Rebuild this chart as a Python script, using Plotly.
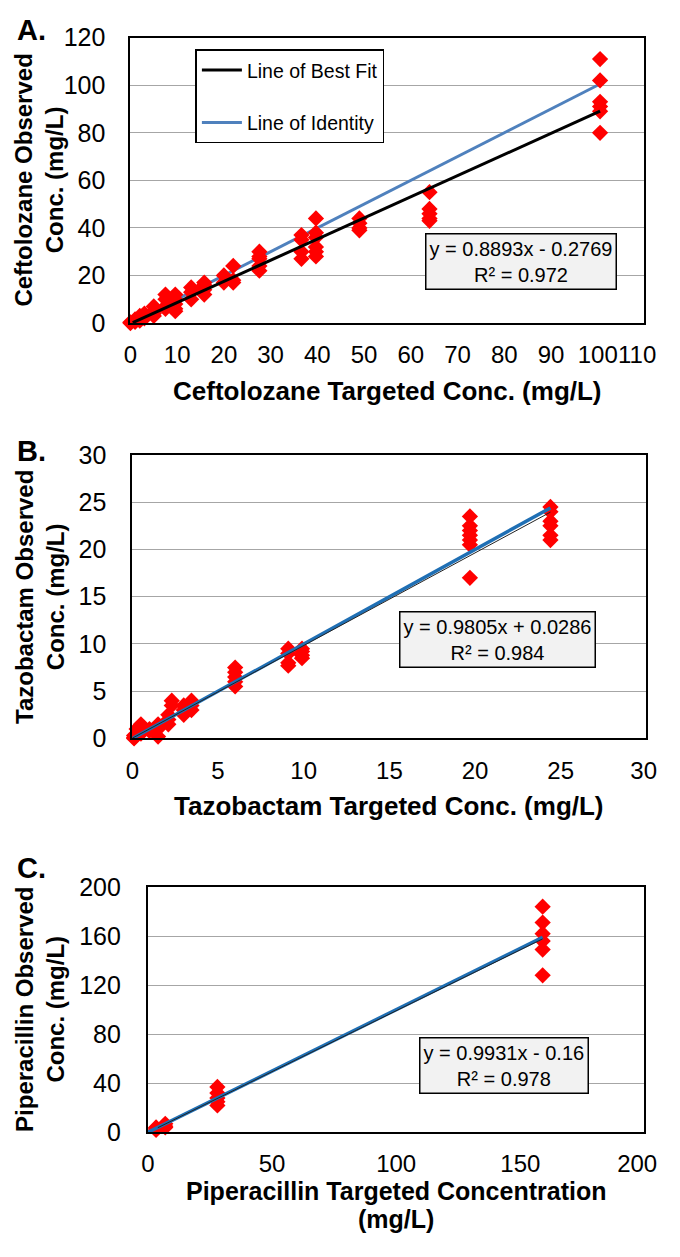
import numpy as np
import plotly.graph_objects as go

FONT = "Arial, 'Liberation Sans', sans-serif"
# The page body keeps its default 8px margin, so the figure is 16px smaller
# than the window and reference pixel positions are shifted by 8.
OFF = 8
W, H = 680 - 2 * OFF, 1257 - 2 * OFF


def px(x):
    return (x - OFF) / W


def py(y):
    return 1 - (y - OFF) / H


# ---------------- Data ----------------
# Panel A: Ceftolozane (mg/L)
ceft_target = [0, 0, 1, 1, 1, 2, 2, 2, 3, 3, 3, 5, 5, 5, 5,
               7.5, 7.5, 7.5, 7.5, 9.6, 9.6, 9.6, 9.6, 9.6,
               13, 13, 13, 15.8, 15.8, 15.8, 15.8, 20, 20, 22, 22, 22,
               27.6, 27.6, 27.6, 27.6, 27.6, 36.6, 36.6, 36.6, 36.6,
               39.7, 39.7, 39.7, 39.7, 39.7, 39.7, 49, 49, 49, 49,
               64, 64, 64, 64, 64, 100.5, 100.5, 100.5, 100.5, 100.5, 100.5]
ceft_observed = [0, 0.3, 1, 0.5, 1.5, 2, 1, 3, 3, 2, 4, 7, 5, 4, 3,
                 12, 10, 7, 6, 12, 10, 8, 6, 5,
                 15, 13, 10, 17, 16, 14, 12, 20, 17, 24, 18, 17,
                 30, 28, 27, 24, 22, 37, 35, 30, 27,
                 44, 38, 36, 32, 30, 28, 44, 42, 40, 39,
                 55, 48, 46, 44, 43, 111, 102, 93, 91, 89, 80]
ceft_fit = {"slope": 0.8893, "intercept": -0.2769, "x": [0.5, 100.5]}
ceft_identity_x = [0, 100.5]
ceft_eq = "y = 0.8893x - 0.2769<br>R² = 0.972"
ceft_xticks = [0, 10, 20, 30, 40, 50, 60, 70, 80, 90, 100, 110]
ceft_yticks = [0, 20, 40, 60, 80, 100, 120]

# Panel B: Tazobactam (mg/L)
tazo_target = [0.1, 0.1, 0.1, 0.25, 0.25, 0.5, 0.5, 0.5, 1, 1, 1.5, 1.5, 1.5,
               2.1, 2.1, 2.1, 2.3, 2.3, 3, 3, 3, 3.45, 3.45, 3.45,
               6, 6, 6, 6, 6, 9.1, 9.1, 9.1, 9.1, 9.9, 9.9, 9.9, 9.9,
               19.7, 19.7, 19.7, 19.7, 19.7, 19.7, 19.7,
               24.4, 24.4, 24.4, 24.4, 24.4, 24.4]
tazo_observed = [0, 0.3, 0.1, 1, 0.5, 1.5, 1.2, 0.5, 1, 0.8, 1.5, 1, 0.2,
                 2.5, 2, 1.5, 4, 3.5, 3.5, 3, 2.5, 4, 3.5, 3,
                 7.5, 7, 6.5, 6, 5.5, 9.5, 9, 8, 7.7, 9.5, 9.2, 8.8, 8.5,
                 23.5, 22.5, 22, 21.5, 21, 20.5, 17,
                 24.5, 24, 23, 22.5, 21.5, 21]
tazo_fit = {"slope": 0.9805, "intercept": 0.0286, "x": [0, 24.4]}
tazo_identity_x = [0, 24.4]
tazo_eq = "y = 0.9805x + 0.0286<br>R² = 0.984"
tazo_xticks = [0, 5, 10, 15, 20, 25, 30]
tazo_yticks = [0, 5, 10, 15, 20, 25, 30]

# Panel C: Piperacillin (mg/L)
pip_target = [3.3, 3.3, 3.3, 7, 7, 7, 28, 28, 28, 28, 28,
              159, 159, 159, 159, 159, 159]
pip_observed = [4, 2, 3, 7, 5, 4, 37, 32, 28, 25, 22,
                184, 171, 162, 156, 149, 128]
pip_fit = {"slope": 0.9931, "intercept": -0.16, "x": [4, 159]}
pip_identity_x = [0, 159]
pip_eq = "y = 0.9931x - 0.16<br>R² = 0.978"
pip_xticks = [0, 50, 100, 150, 200]
pip_yticks = [0, 40, 80, 120, 160, 200]

# ---------------- Layout geometry (reference pixels) ----------------
XT_FONT, YT_FONT = 24, 25
panels = [
    dict(ax="", x0=127, x1=657, top=24, bot=316, xr=[0, 110], yr=[0, 120],
         xticks=ceft_xticks, yticks=ceft_yticks, xstand=9, ystand=18,
         ytitle="Ceftolozane Observed<br>Conc. (mg/L)",
         xtitle=[("Ceftolozane Targeted Conc. (mg/L)", 386)], xt_font=26,
         label="A.", label_y=16, eq=ceft_eq, eq_xy=(530, 253)),
    dict(ax="2", x0=129, x1=659, top=451, bot=741, xr=[0, 30], yr=[0, 30],
         xticks=tazo_xticks, yticks=tazo_yticks, xstand=10, ystand=19,
         ytitle="Tazobactam Observed<br>Conc. (mg/L)",
         xtitle=[("Tazobactam Targeted Conc. (mg/L)", 810)], xt_font=26,
         label="B.", label_y=447, eq=tazo_eq, eq_xy=(505, 640)),
    dict(ax="3", x0=145, x1=657, top=893, bot=1144, xr=[0, 200], yr=[0, 200],
         xticks=pip_xticks, yticks=pip_yticks, xstand=9, ystand=20,
         ytitle="Piperacillin Observed<br>Conc. (mg/L)",
         xtitle=[("Piperacillin Targeted Concentration", 1204), ("(mg/L)", 1233)],
         xt_font=25,
         label="C.", label_y=874, eq=pip_eq, eq_xy=(512, 1076)),
]

RED = "#ff0000"
fig = go.Figure()


def line_xy(fit):
    xs = np.array(fit["x"], dtype=float)
    return xs, fit["slope"] * xs + fit["intercept"]


def add_markers(x, y, ax):
    fig.add_trace(go.Scatter(
        x=x, y=y, mode="markers", xaxis="x" + ax, yaxis="y" + ax,
        marker=dict(symbol="diamond", size=12.5, color=RED, line=dict(width=0)),
        showlegend=False, cliponaxis=False, hoverinfo="x+y"))


# Panel A
fig.add_trace(go.Scatter(x=ceft_identity_x, y=ceft_identity_x, mode="lines",
                         line=dict(color="#4f81bd", width=3), name="Line of Identity",
                         legendgroup="id", legendrank=2, xaxis="x", yaxis="y"))
add_markers(ceft_target, ceft_observed, "")
fx, fy = line_xy(ceft_fit)
fig.add_trace(go.Scatter(x=fx, y=fy, mode="lines", line=dict(color="black", width=3),
                         name="Line of Best Fit", legendgroup="fit", legendrank=1,
                         xaxis="x", yaxis="y"))

# Panel B
add_markers(tazo_target, tazo_observed, "2")
fig.add_trace(go.Scatter(x=tazo_identity_x, y=tazo_identity_x, mode="lines",
                         line=dict(color="#1f6fb4", width=3.5), showlegend=False,
                         xaxis="x2", yaxis="y2"))
fx, fy = line_xy(tazo_fit)
fig.add_trace(go.Scatter(x=fx, y=fy, mode="lines", line=dict(color="#222222", width=1),
                         showlegend=False, xaxis="x2", yaxis="y2"))

# Panel C
add_markers(pip_target, pip_observed, "3")
fig.add_trace(go.Scatter(x=pip_identity_x, y=pip_identity_x, mode="lines",
                         line=dict(color="#1f6fb4", width=3.5), showlegend=False,
                         xaxis="x3", yaxis="y3"))
fx, fy = line_xy(pip_fit)
fig.add_trace(go.Scatter(x=fx, y=fy, mode="lines", line=dict(color="#222222", width=1),
                         showlegend=False, xaxis="x3", yaxis="y3"))


def x_tick_positions(p):
    """Keep the last tick label inside the figure (Plotly hides labels past the div)."""
    upp = (p["xr"][1] - p["xr"][0]) / (p["x1"] - p["x0"])  # data units per pixel
    vals = []
    for v in p["xticks"]:
        half = len(str(v)) * 0.556 * XT_FONT / 2 + 2.5
        max_center_px = (OFF + W) - half
        max_val = p["xr"][0] + (max_center_px - p["x0"]) * upp
        vals.append(min(v, max_val))
    return vals


annotations = []
layout_axes = {}
for p in panels:
    ax = p["ax"]
    layout_axes["xaxis" + ax] = dict(
        domain=[px(p["x0"]), px(p["x1"])], anchor="y" + ax, range=p["xr"],
        tickvals=x_tick_positions(p), ticktext=[str(v) for v in p["xticks"]],
        tickangle=0,
        showgrid=False, zeroline=False, showline=True, linecolor="black",
        linewidth=2, mirror=True, ticks="", ticklabelstandoff=p["xstand"],
        tickfont=dict(family=FONT, size=XT_FONT, color="black"), fixedrange=True)
    layout_axes["yaxis" + ax] = dict(
        domain=[py(p["bot"]), py(p["top"])], anchor="x" + ax, range=p["yr"],
        tickvals=p["yticks"], ticktext=[str(v) for v in p["yticks"]],
        showgrid=True, gridcolor="#a6a6a6", gridwidth=1,
        zeroline=False, showline=True, linecolor="black", linewidth=2, mirror=True,
        ticks="", ticklabelstandoff=p["ystand"],
        tickfont=dict(family=FONT, size=YT_FONT, color="black"), fixedrange=True)
    annotations.append(dict(
        x=px(33), y=py((p["top"] + p["bot"]) / 2), xref="paper", yref="paper",
        xanchor="center", yanchor="middle",
        text="<b>" + p["ytitle"] + "</b>", textangle=-90, showarrow=False,
        font=dict(family=FONT, size=24, color="black")))
    for txt, yy in p["xtitle"]:
        annotations.append(dict(
            x=px((p["x0"] + p["x1"]) / 2), y=py(yy), xref="paper", yref="paper",
            xanchor="center", yanchor="middle", text="<b>" + txt + "</b>",
            showarrow=False, font=dict(family=FONT, size=p["xt_font"], color="black")))
    annotations.append(dict(
        x=px(8), y=py(p["label_y"]), xref="paper", yref="paper", xanchor="left",
        yanchor="middle", text="<b>" + p["label"] + "</b>", showarrow=False,
        font=dict(family=FONT, size=29, color="black")))
    annotations.append(dict(
        x=px(p["eq_xy"][0]), y=py(p["eq_xy"][1]), xref="paper", yref="paper",
        xanchor="center", yanchor="middle", text=p["eq"], showarrow=False, align="center",
        bgcolor="#f2f2f2", bordercolor="black", borderwidth=1.5, borderpad=3,
        font=dict(family=FONT, size=20, color="black")))

fig.update_layout(
    width=W, height=H, margin=dict(l=0, r=0, t=0, b=0),
    paper_bgcolor="white", plot_bgcolor="white",
    showlegend=True,
    legend=dict(x=px(194), y=py(36), xanchor="left", yanchor="top",
                bgcolor="white", bordercolor="black", borderwidth=1.5,
                font=dict(family=FONT, size=19.5, color="black"),
                tracegroupgap=24, traceorder="grouped", itemwidth=40),
    annotations=annotations,
    **layout_axes,
)

fig.write_html("out.html", config={"displayModeBar": False})
